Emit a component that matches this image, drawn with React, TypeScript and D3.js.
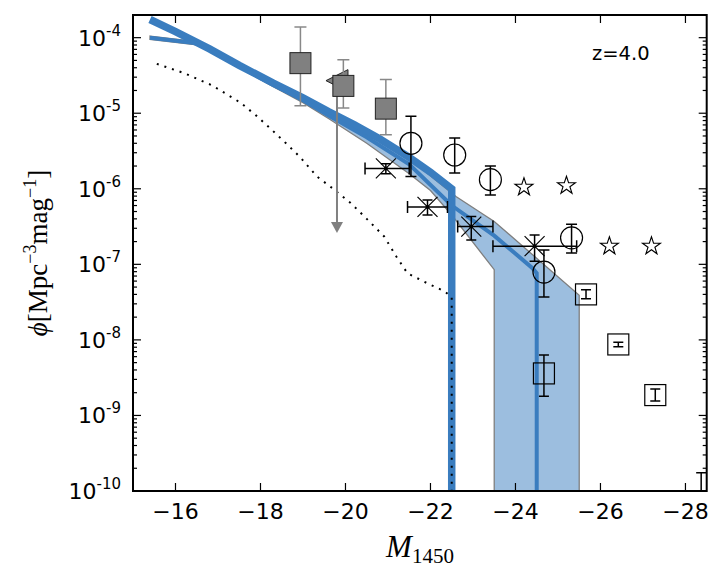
import React from "react";
import * as d3 from "d3";

// model A (thick blue line)
const modelAMag = [-15.4, -16.0, -16.8, -17.5, -18.3, -19.0, -19.6, -20.2, -20.8, -21.5, -22.0, -22.5, -22.5];
const modelAPhi = [1.74e-4, 1.2e-4, 7.1e-5, 4.3e-5, 2.5e-5, 1.6e-5, 1.05e-5, 7.1e-6, 4.6e-6, 2.6e-6, 1.66e-6, 1.0e-6, 1e-11];

// model B (medium blue line)
const modelBMag = [-15.4, -16.6, -17.5, -18.3, -19.0, -19.6, -20.5, -21.5, -22.5, -23.5, -24.4, -24.5, -24.5];
const modelBPhi = [1.0e-4, 8.3e-5, 4.2e-5, 2.4e-5, 1.48e-5, 9.3e-6, 4.8e-6, 2.1e-6, 6.0e-7, 2.4e-7, 8.9e-8, 7.6e-8, 1e-11];

// uncertainty band around model B
const bandUpperMag = [-15.4, -16.6, -17.5, -18.3, -19.0, -19.6, -20.5, -21.5, -22.6, -23.5, -25.5, -25.5];
const bandUpperPhi = [1.05e-4, 8.7e-5, 4.4e-5, 2.5e-5, 1.58e-5, 1.02e-5, 5.4e-6, 2.5e-6, 7.9e-7, 3.7e-7, 3.9e-8, 1e-11];
const bandLowerMag = [-15.4, -16.6, -17.5, -18.3, -19.0, -19.6, -20.5, -21.5, -22.0, -22.5, -23.5, -23.5];
const bandLowerPhi = [9.5e-5, 7.9e-5, 4.0e-5, 2.24e-5, 1.38e-5, 8.5e-6, 4.0e-6, 1.58e-6, 9.5e-7, 4.5e-7, 8.5e-8, 1e-11];

// dotted model
const dotMag = [-15.56, -16.2, -16.86, -17.53, -17.9, -18.23, -18.6, -18.94, -19.33, -19.69, -20.12, -20.5, -20.91, -21.2, -21.46, -21.93, -22.33, -22.5, -22.5];
const dotPhi = [4.5e-5, 3.4e-5, 2.34e-5, 1.38e-5, 9.3e-6, 6.3e-6, 4.0e-6, 2.6e-6, 1.45e-6, 1.02e-6, 6.5e-7, 4.0e-7, 2.34e-7, 1.26e-7, 7.6e-8, 5.6e-8, 4.4e-8, 3.7e-8, 1e-11];

// gray filled squares
const graySqMag = [-18.94, -19.95, -20.95];
const graySqPhi = [4.6e-5, 2.3e-5, 1.15e-5];
const graySqLo = [1.26e-5, 1.17e-5, 5.2e-6];
const graySqHi = [1.38e-4, 5.1e-5, 2.8e-5];

// gray upper limit
const limitMag = [-19.8];
const limitPhi = [2.7e-5];
const limitTo = [2.6e-7];

// open circles
const circMag = [-21.54, -22.57, -23.41, -24.67, -25.32];
const circPhi = [4.0e-6, 2.8e-6, 1.32e-6, 7.9e-8, 2.24e-7];
const circLo = [1.45e-6, 1.62e-6, 8.3e-7, 3.7e-8, 1.41e-7];
const circHi = [9.1e-6, 4.7e-6, 2.0e-6, 1.55e-7, 3.4e-7];

// open stars
const starMag = [-24.2, -25.2, -26.21, -27.2];
const starPhi = [1.05e-6, 1.1e-6, 1.74e-7, 1.74e-7];

// crosses with x and y errors
const crossMag = [-20.95, -21.93, -22.96, -24.45];
const crossPhi = [1.86e-6, 5.75e-7, 3.16e-7, 1.74e-7];
const crossMagLo = [-20.46, -21.46, -22.64, -23.47];
const crossMagHi = [-21.5, -22.4, -23.47, -25.44];
const crossLo = [1.58e-6, 4.5e-7, 2.1e-7, 1.1e-7];
const crossHi = [2.14e-6, 7.1e-7, 4.3e-7, 2.45e-7];

// open squares
const openSqMag = [-24.67, -25.66, -26.42, -27.29, -28.37];
const openSqPhi = [3.6e-9, 4.0e-8, 8.7e-9, 1.86e-9, 5e-11];
const openSqLo = [1.8e-9, 3.5e-8, 8.1e-9, 1.55e-9, 2e-11];
const openSqHi = [6.3e-9, 4.6e-8, 9.3e-9, 2.24e-9, 1.74e-10];

const xTicks = [-16, -18, -20, -22, -24, -26, -28];
const yTickExps = [-4, -5, -6, -7, -8, -9, -10];

const W = 727;
const H = 580;
const margin = { top: 15, right: 20.3, bottom: 89, left: 133 };
const blue = "#3a7dbf";
const grayMark = "#808080";

export default function App() {
  const x = d3.scaleLinear().domain([-15, -28.5]).range([margin.left, W - margin.right]);
  const y = d3.scaleLog().domain([1e-10, Math.pow(10, -3.7)]).range([H - margin.bottom, margin.top]);
  const x0 = margin.left, x1 = W - margin.right, y0 = H - margin.bottom, y1 = margin.top;

  const line = d3.line<[number, number]>().x((d) => x(d[0])).y((d) => y(d[1]));
  const zip = (a: number[], b: number[]) => a.map((v, i) => [v, b[i]] as [number, number]);

  const bandPts = [...zip(bandUpperMag, bandUpperPhi), ...zip(bandLowerMag, bandLowerPhi).reverse()];
  const band = line(bandPts) + "Z";

  const minor: number[] = [];
  for (let e = -10; e <= -4; e++) for (let k = 2; k <= 9; k++) {
    const v = k * Math.pow(10, e);
    if (v < y.domain()[1]) minor.push(v);
  }

  const star = d3.symbol(d3.symbolStar, 100)()!;

  const vErr = (cx: number, lo: number, hi: number, cap: number, color: string, key: string) => (
    <g key={key} stroke={color} strokeWidth={1.5}>
      <line x1={cx} x2={cx} y1={y(lo)} y2={y(hi)} />
      <line x1={cx - cap} x2={cx + cap} y1={y(lo)} y2={y(lo)} />
      <line x1={cx - cap} x2={cx + cap} y1={y(hi)} y2={y(hi)} />
    </g>
  );

  return (
    <svg width={W} height={H} style={{ position: "absolute", left: 0, top: 0, background: "#fff" }}
      fontFamily="DejaVu Sans">
      <defs>
        <clipPath id="plot">
          <rect x={x0} y={y1} width={x1 - x0} height={y0 - y1} />
        </clipPath>
      </defs>

      <g clipPath="url(#plot)">
        <path d={band} fill={blue} fillOpacity={0.5} stroke="#7f7f7f" strokeWidth={1.3} />
        <path d={line(zip(modelAMag, modelAPhi))!} fill="none" stroke={blue} strokeWidth={7.5} />
        <path d={line(zip(modelBMag, modelBPhi))!} fill="none" stroke={blue} strokeWidth={4} />
        <path d={line(zip(dotMag, dotPhi))!} fill="none" stroke="#000" strokeWidth={2} strokeDasharray="2,6" />

        {/* upper limit */}
        {limitMag.map((m, i) => {
          const cx = x(m), cy = y(limitPhi[i]), ty = y(limitTo[i]);
          return (
            <g key={"lim" + i}>
              <line x1={cx} x2={cx} y1={cy} y2={ty - 10} stroke={grayMark} strokeWidth={2} />
              <path d={`M${cx - 6},${ty - 11}L${cx + 6},${ty - 11}L${cx},${ty}Z`} fill={grayMark} />
              <path d={`M${cx - 11},${cy}L${cx + 11},${cy - 11}L${cx + 11},${cy + 11}Z`} fill={grayMark} stroke="#222" strokeWidth={1} />
            </g>
          );
        })}

        {/* gray squares */}
        {graySqMag.map((m, i) => vErr(x(m), graySqLo[i], graySqHi[i], 6, "#888", "gse" + i))}
        {graySqMag.map((m, i) => (
          <rect key={"gs" + i} x={x(m) - 10.5} y={y(graySqPhi[i]) - 10.5} width={21} height={21}
            fill={grayMark} stroke="#222" strokeWidth={1} />
        ))}

        {/* crosses */}
        {crossMag.map((m, i) => {
          const cx = x(m), cy = y(crossPhi[i]);
          return (
            <g key={"cr" + i} stroke="#000" strokeWidth={1.5}>
              <line x1={x(crossMagLo[i])} x2={x(crossMagHi[i])} y1={cy} y2={cy} />
              <line x1={x(crossMagLo[i])} x2={x(crossMagLo[i])} y1={cy - 6} y2={cy + 6} />
              <line x1={x(crossMagHi[i])} x2={x(crossMagHi[i])} y1={cy - 6} y2={cy + 6} />
              {vErr(cx, crossLo[i], crossHi[i], 5, "#000", "cre" + i)}
              <line x1={cx - 10} x2={cx + 10} y1={cy - 10} y2={cy + 10} strokeWidth={1.2} />
              <line x1={cx - 10} x2={cx + 10} y1={cy + 10} y2={cy - 10} strokeWidth={1.2} />
              <circle cx={cx} cy={cy} r={2} fill="#000" stroke="none" />
            </g>
          );
        })}

        {/* open circles */}
        {circMag.map((m, i) => (
          <g key={"c" + i}>
            {vErr(x(m), circLo[i], circHi[i], 5.5, "#000", "ce" + i)}
            <circle cx={x(m)} cy={y(circPhi[i])} r={11} fill="none" stroke="#000" strokeWidth={1.2} />
          </g>
        ))}

        {/* stars */}
        {starMag.map((m, i) => (
          <path key={"s" + i} d={star} transform={`translate(${x(m)},${y(starPhi[i])})`}
            fill="none" stroke="#000" strokeWidth={1.1} />
        ))}

        {/* open squares */}
        {openSqMag.map((m, i) => (
          <g key={"os" + i}>
            {vErr(x(m), openSqLo[i], openSqHi[i], 5, "#000", "ose" + i)}
            <rect x={x(m) - 10.5} y={y(openSqPhi[i]) - 10.5} width={21} height={21}
              fill="none" stroke="#000" strokeWidth={1.2} />
          </g>
        ))}
      </g>

      {/* ticks */}
      <g stroke="#000" strokeWidth={1.2}>
        {xTicks.map((t) => (
          <g key={"xt" + t}>
            <line x1={x(t)} x2={x(t)} y1={y0} y2={y0 - 8} />
            <line x1={x(t)} x2={x(t)} y1={y1} y2={y1 + 8} />
          </g>
        ))}
        {yTickExps.map((e) => (
          <g key={"yt" + e}>
            <line x1={x0} x2={x0 + 8} y1={y(Math.pow(10, e))} y2={y(Math.pow(10, e))} />
            <line x1={x1} x2={x1 - 8} y1={y(Math.pow(10, e))} y2={y(Math.pow(10, e))} />
          </g>
        ))}
        {minor.map((v, i) => (
          <g key={"mt" + i}>
            <line x1={x0} x2={x0 + 4} y1={y(v)} y2={y(v)} />
            <line x1={x1} x2={x1 - 4} y1={y(v)} y2={y(v)} />
          </g>
        ))}
      </g>
      <rect x={x0} y={y1} width={x1 - x0} height={y0 - y1} fill="none" stroke="#000" strokeWidth={2} />

      {/* tick labels */}
      {xTicks.map((t) => (
        <text key={"xl" + t} x={x(t)} y={519} textAnchor="middle" fontSize={22}>
          {"\u2212" + Math.abs(t)}
        </text>
      ))}
      {yTickExps.map((e) => (
        <text key={"yl" + e} x={121} y={y(Math.pow(10, e)) + 8} textAnchor="end" fontSize={22}>
          10<tspan dy={-10} fontSize={15}>{"-" + Math.abs(e)}</tspan>
        </text>
      ))}

      <text x={592} y={59.5} fontSize={19.5}>z=4.0</text>

      {/* axis labels */}
      <text x={420} y={557} textAnchor="middle" fontFamily="Liberation Serif" fontSize={31}>
        <tspan fontStyle="italic">M</tspan>
        <tspan dy={6} fontSize={21}>1450</tspan>
      </text>
      <text transform={`translate(47,${(y0 + y1) / 2}) rotate(-90)`} textAnchor="middle"
        fontFamily="Liberation Serif" fontSize={27}>
        <tspan fontStyle="italic">ϕ</tspan>[Mpc<tspan dy={-11} fontSize={18}>−3</tspan>
        <tspan dy={11}>mag</tspan><tspan dy={-11} fontSize={18}>−1</tspan><tspan dy={11}>]</tspan>
      </text>
    </svg>
  );
}
